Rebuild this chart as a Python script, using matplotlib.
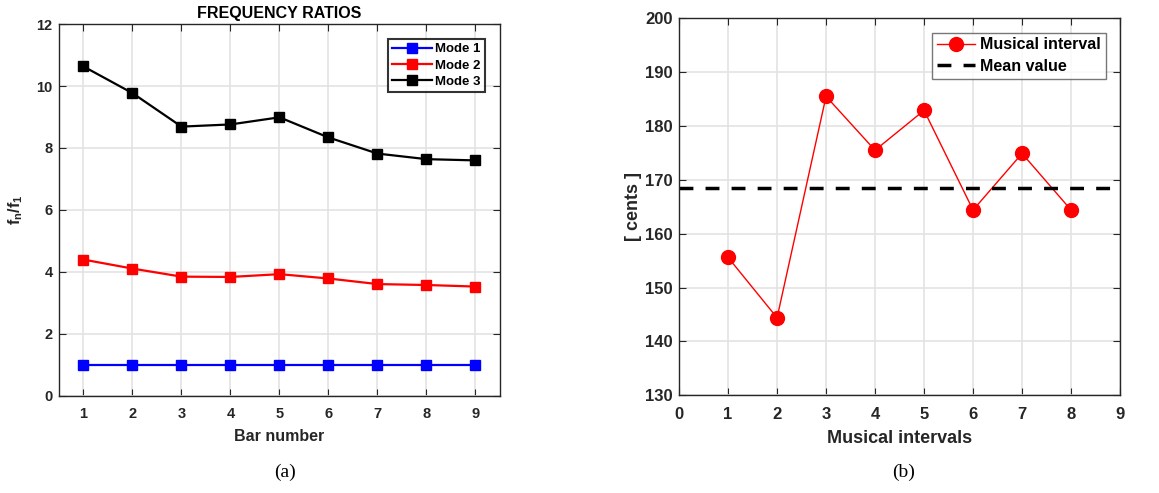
import numpy as np
import matplotlib.pyplot as plt

plt.rcParams['font.family'] = ['Liberation Sans', 'DejaVu Sans']
plt.rcParams['font.weight'] = 'bold'
plt.rcParams['mathtext.fontset'] = 'custom'
plt.rcParams['mathtext.rm'] = 'Liberation Sans:bold'
plt.rcParams['mathtext.bf'] = 'Liberation Sans:bold'
plt.rcParams['mathtext.it'] = 'Liberation Sans:bold'

# frequency ratios per bar
bars = [1, 2, 3, 4, 5, 6, 7, 8, 9]
mode1 = [1.0, 1.0, 1.0, 1.0, 1.0, 1.0, 1.0, 1.0, 1.0]
mode2 = [4.40, 4.11, 3.85, 3.84, 3.93, 3.79, 3.61, 3.58, 3.53]
mode3 = [10.63, 9.77, 8.69, 8.76, 8.99, 8.34, 7.82, 7.64, 7.60]

# musical intervals between successive bars, in cents
intervals = [1, 2, 3, 4, 5, 6, 7, 8]
cents = [155.6, 144.4, 185.5, 175.5, 182.9, 164.4, 174.9, 164.4]
mean_cents = np.mean(cents)

frame = '#262626'
gridc = '#e3e3e3'


def matlab_style(ax, fs, xpad, ypad):
    ax.grid(True, color=gridc, linewidth=1.2)
    ax.set_axisbelow(True)
    for s in ax.spines.values():
        s.set_color(frame)
        s.set_linewidth(1.0)
    ax.tick_params(direction='in', top=True, right=True, length=5,
                   color=frame, labelcolor=frame, labelsize=fs)
    ax.tick_params(axis='x', pad=xpad)
    ax.tick_params(axis='y', pad=ypad)
    for lab in ax.get_xticklabels() + ax.get_yticklabels():
        lab.set_fontweight('bold')


fig = plt.figure(figsize=(11.59, 4.93), dpi=100)

# (a) frequency ratios
ax1 = fig.add_axes([0.0509, 0.1968, 0.3805, 0.7545])
ax1.plot(bars, mode1, '-s', color='#0000ff', lw=1.6, ms=7, label='Mode 1')
ax1.plot(bars, mode2, '-s', color='#ff0000', lw=1.6, ms=7, label='Mode 2')
ax1.plot(bars, mode3, '-s', color='#000000', lw=1.6, ms=7, label='Mode 3')
ax1.set_xlim(0.5, 9.5)
ax1.set_ylim(0, 12)
ax1.set_xticks(bars)
ax1.set_yticks(np.arange(0, 13, 2))
matlab_style(ax1, 10.5, 8, 4.5)
ax1.set_title('FREQUENCY RATIOS', fontsize=11.5, fontweight='bold', pad=4)
ax1.set_xlabel('Bar number', fontsize=11.5, fontweight='bold', color=frame, labelpad=6)
ax1.set_ylabel(r'$\mathbf{f_n/f_1}$', fontsize=11.5, color=frame, labelpad=8)
leg1 = ax1.legend(loc='upper right', fontsize=9.5, frameon=True, fancybox=False,
                  edgecolor='black', handlelength=3.0, borderpad=0.35,
                  labelspacing=0.3, handletextpad=0.25, borderaxespad=1.1)
leg1.get_frame().set_linewidth(1.5)

# (b) musical intervals
ax2 = fig.add_axes([0.5859, 0.1982, 0.3805, 0.7647])
ax2.plot(intervals, cents, '-o', color='#ff0000', lw=1.0, ms=10, label='Musical interval')
ax2.axhline(mean_cents, color='black', lw=2.5, ls=(0, (4, 3.5)), label='Mean value')
ax2.set_xlim(0, 9)
ax2.set_ylim(130, 200)
ax2.set_xticks(np.arange(0, 10, 1))
ax2.set_yticks(np.arange(130, 201, 10))
matlab_style(ax2, 12, 8.5, 4.5)
ax2.set_xlabel('Musical intervals', fontsize=13, fontweight='bold', color=frame, labelpad=6)
ax2.set_ylabel('[ cents ]', fontsize=13, fontweight='bold', color=frame, labelpad=2)
leg2 = ax2.legend(loc='upper right', fontsize=11.5, frameon=True, fancybox=False,
                  edgecolor='#555555', handlelength=2.4, borderpad=0.3,
                  labelspacing=0.4, handletextpad=0.3, borderaxespad=0.9)
leg2.get_frame().set_linewidth(1.0)

fig.text(285 / 1159, 1 - 472 / 493, '(a)', family=['Liberation Serif'], fontweight='normal',
         fontsize=14, ha='center', va='center')
fig.text(904 / 1159, 1 - 472 / 493, '(b)', family=['Liberation Serif'], fontweight='normal',
         fontsize=14, ha='center', va='center')

fig.savefig('out.png', dpi=100)
